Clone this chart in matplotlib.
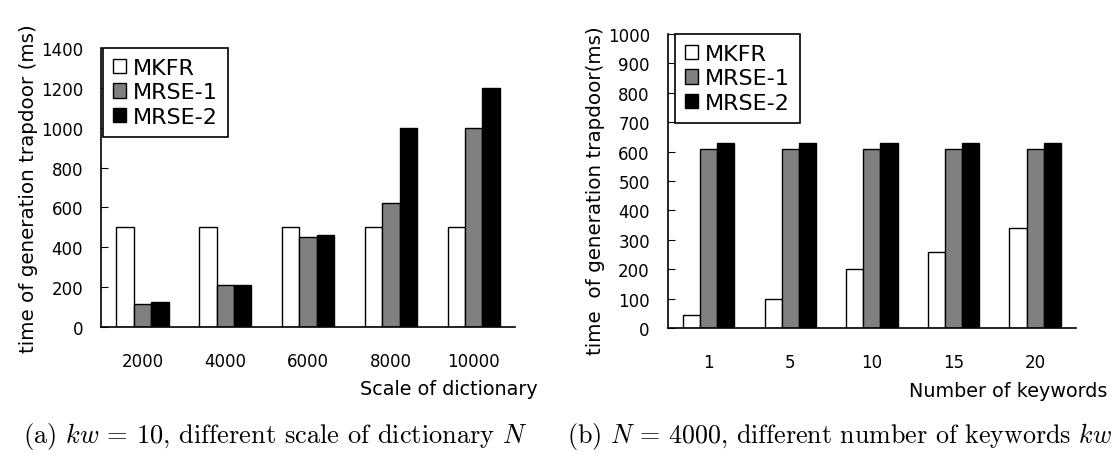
import numpy as np
import matplotlib
matplotlib.use("Agg")
import matplotlib.pyplot as plt

# data
series = ["MKFR", "MRSE-1", "MRSE-2"]
colors = ["white", "#808080", "black"]

dict_scale = ["2000", "4000", "6000", "8000", "10000"]
a_mkfr = [500, 500, 500, 500, 500]
a_mrse1 = [115, 210, 450, 620, 1000]
a_mrse2 = [125, 210, 460, 1000, 1200]

keywords = ["1", "5", "10", "15", "20"]
b_mkfr = [45, 100, 200, 260, 340]
b_mrse1 = [610, 610, 610, 610, 610]
b_mrse2 = [630, 630, 630, 630, 630]

plt.rcParams["font.family"] = ["DejaVu Sans"]
plt.rcParams["mathtext.fontset"] = "cm"

fig = plt.figure(figsize=(11.15, 4.56), dpi=100)
ax1 = fig.add_axes([0.0906, 0.2807, 0.3713, 0.612])
ax2 = fig.add_axes([0.599, 0.2785, 0.366, 0.645])


def draw(ax, cats, vals, ymax, ystep, ylabel, xlabel, leg_x):
    x = np.arange(len(cats)) + 0.5
    w = 0.21
    for i, (v, c, name) in enumerate(zip(vals, colors, series)):
        ax.bar(x + (i - 1) * w, v, width=w, color=c, edgecolor="black",
               linewidth=1, label=name)
    ax.set_xlim(0, len(cats))
    ax.set_ylim(0, ymax)
    ax.set_xticks(x)
    ax.set_xticklabels(cats, fontsize=12)
    ax.set_yticks(np.arange(0, ymax + 1, ystep))
    ax.tick_params(axis="x", length=0, pad=18)
    ax.tick_params(axis="y", direction="in", length=5, labelsize=12, pad=13)
    for s in ["top", "right"]:
        ax.spines[s].set_visible(False)
    for s in ["left", "bottom"]:
        ax.spines[s].set_linewidth(1.2)
    ax.set_ylabel(ylabel, fontsize=14.3, labelpad=2)
    ax.set_xlabel(xlabel, fontsize=13.8)
    ax.xaxis.label.set_ha("right")
    leg = ax.legend(loc="upper left", bbox_to_anchor=(leg_x, 1.0),
                    borderaxespad=0, fontsize=16,
                    fancybox=False, edgecolor="black", framealpha=1,
                    handlelength=0.6, handleheight=0.6, handletextpad=0.3,
                    labelspacing=0.2, borderpad=0.45)
    leg.get_frame().set_linewidth(1.2)


draw(ax1, dict_scale, [a_mkfr, a_mrse1, a_mrse2], 1400, 200,
     "time of generation trapdoor (ms)", "Scale of dictionary", 0.005)
ax1.xaxis.set_label_coords(1.054, -0.187, transform=ax1.transAxes)
draw(ax2, keywords, [b_mkfr, b_mrse1, b_mrse2], 1000, 100,
     "time  of generation trapdoor(ms)", "Number of keywords", 0.017)
ax2.yaxis.label.set_y(0.47)
ax2.xaxis.set_label_coords(1.077, -0.18, transform=ax2.transAxes)

fig.text(0.247, 0.042, r"(a) $kw$ = 10, different scale of dictionary $N$",
         fontsize=19, family="cmr10", ha="center", va="center")
fig.text(0.753, 0.042, r"(b) $N$ = 4000, different number of keywords $kw$",
         fontsize=18.7, family="cmr10", ha="center", va="center")

fig.savefig("out.png", dpi=100)
